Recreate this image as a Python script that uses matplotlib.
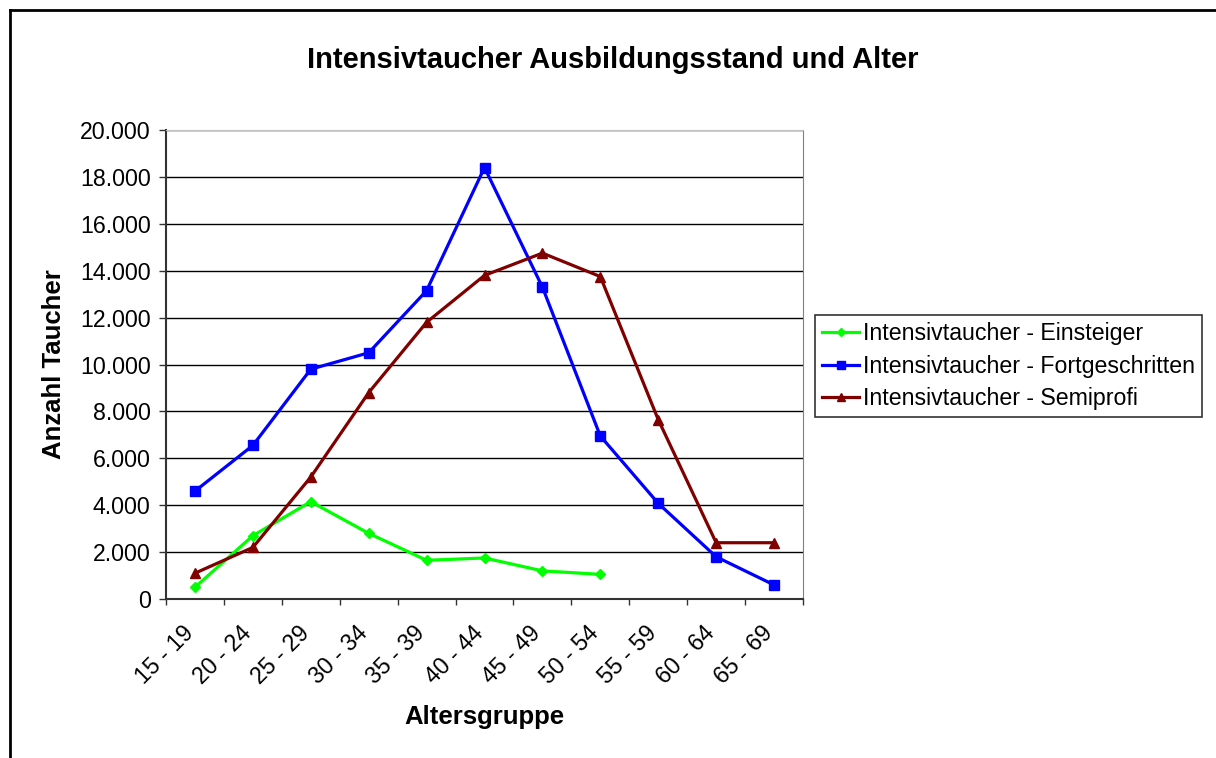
import matplotlib
matplotlib.use("Agg")
import matplotlib.pyplot as plt
from matplotlib.lines import Line2D
from matplotlib.transforms import ScaledTranslation

plt.rcParams['font.family'] = ['Liberation Sans', 'DejaVu Sans']

# Daten
altersgruppen = ['15 - 19', '20 - 24', '25 - 29', '30 - 34', '35 - 39', '40 - 44',
                 '45 - 49', '50 - 54', '55 - 59', '60 - 64', '65 - 69']
einsteiger = [500, 2700, 4150, 2800, 1650, 1750, 1200, 1050]
fortgeschritten = [4600, 6550, 9800, 10500, 13150, 18400, 13300, 6950, 4080, 1800, 600]
semiprofi = [1100, 2200, 5200, 8800, 11800, 13800, 14750, 13750, 7650, 2400, 2400]
y_ticks = list(range(0, 20001, 2000))

fig = plt.figure(figsize=(12.16, 7.58), dpi=100)
ax = fig.add_axes([166 / 1216, 1 - 599 / 758, 637 / 1216, 469 / 758])

x = list(range(len(altersgruppen)))
ax.plot(x[:len(einsteiger)], einsteiger, color='#00FF00', lw=2.3, marker='D', ms=5,
        label='Intensivtaucher - Einsteiger')
ax.plot(x, fortgeschritten, color='#0000FF', lw=2.3, marker='s', ms=7,
        label='Intensivtaucher - Fortgeschritten')
ax.plot(x, semiprofi, color='#800000', lw=2.3, marker='^', ms=7,
        label='Intensivtaucher - Semiprofi')

ax.set_xlim(-0.5, len(altersgruppen) - 0.5)
ax.set_ylim(0, 20000)

# Teilstriche an den Kategoriegrenzen, Beschriftungen in der Mitte
ax.set_xticks([i - 0.5 for i in range(len(altersgruppen) + 1)])
ax.set_xticklabels([])
ax.set_xticks(x, minor=True)
ax.set_xticklabels(altersgruppen, minor=True, rotation=45, ha='right', va='center',
                   rotation_mode='anchor', fontsize=16.7)
ax.tick_params(axis='x', which='major', direction='out', length=4.5, width=1, color='#333333')
ax.tick_params(axis='x', which='minor', length=0, pad=22)
shift = ScaledTranslation(-5 / 100, 0, fig.dpi_scale_trans)
for lbl in ax.get_xticklabels(minor=True):
    lbl.set_transform(lbl.get_transform() + shift)

ax.set_yticks(y_ticks)
ax.set_yticklabels([f'{v:,}'.replace(',', '.') for v in y_ticks], fontsize=16.7)
ax.tick_params(axis='y', direction='out', length=5, width=1, color='#333333', pad=6)

ax.yaxis.grid(True, color='black', lw=1)
ax.set_axisbelow(True)
for side in ['left', 'bottom']:
    ax.spines[side].set_color('#333333')
    ax.spines[side].set_linewidth(1.5)
ax.spines['top'].set_color('#c0c0c0')
ax.spines['right'].set_color('#808080')

ax.set_ylabel('Anzahl Taucher', fontsize=18.5, fontweight='bold', labelpad=10)
ax.set_xlabel('Altersgruppe', fontsize=18.5, fontweight='bold', labelpad=12)

fig.text(613 / 1216, 1 - 60 / 758, 'Intensivtaucher Ausbildungsstand und Alter',
         fontsize=21, fontweight='bold', ha='center', va='center')

leg = fig.legend(loc='upper left', bbox_to_anchor=(815 / 1216, 1 - 315 / 758),
                 fontsize=16.7, frameon=True, fancybox=False, borderaxespad=0,
                 handlelength=1.6, handletextpad=0.15, labelspacing=0.42,
                 borderpad=0.3, markerscale=0.8)
leg.get_frame().set_edgecolor('black')
leg.get_frame().set_linewidth(1.2)

# äußerer Diagrammrahmen
fig.add_artist(Line2D([10 / 1216, 10 / 1216], [0, 1 - 10 / 758], color='black', lw=2,
                      transform=fig.transFigure))
fig.add_artist(Line2D([10 / 1216, 1], [1 - 10 / 758, 1 - 10 / 758], color='black', lw=2,
                      transform=fig.transFigure))

fig.savefig('out.png', dpi=100)
